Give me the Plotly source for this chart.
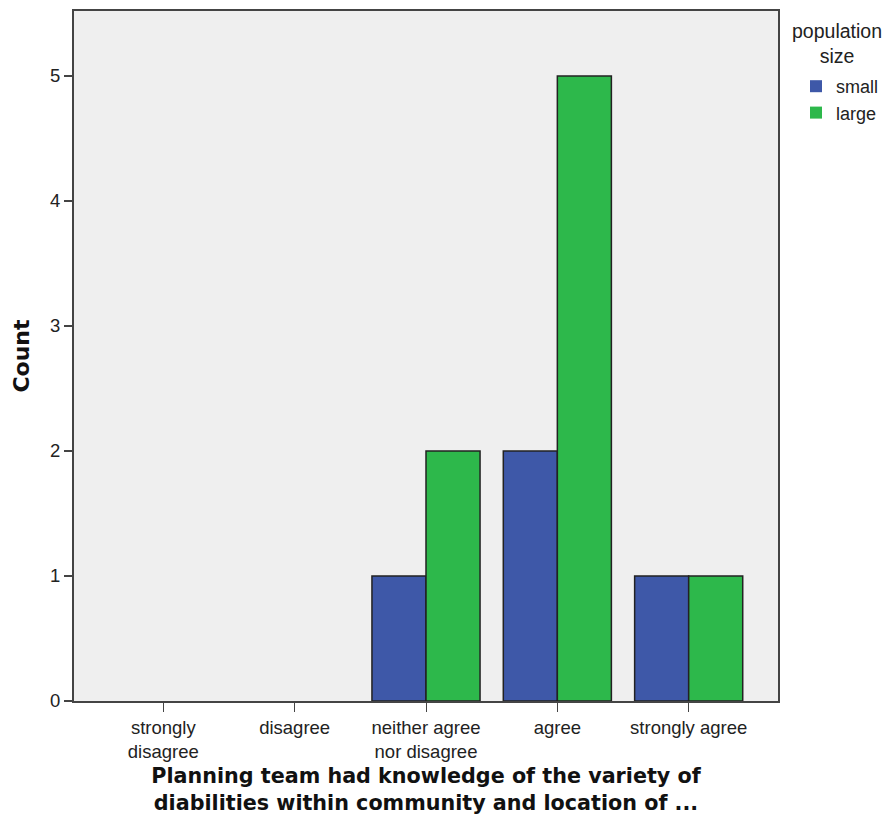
import plotly.graph_objects as go

categories = ["strongly<br>disagree", "disagree", "neither agree<br>nor disagree", "agree", "strongly agree"]
small_counts = [0, 0, 1, 2, 1]
large_counts = [0, 0, 2, 5, 1]
y_ticks = [0, 1, 2, 3, 4, 5]
legend_title = "population<br>size"


def outline(vals):
    return [1.5 if v > 0 else 0 for v in vals]


fig = go.Figure()
fig.add_trace(go.Bar(x=categories, y=small_counts, name="small",
                     marker=dict(color="#3e58a8", line=dict(color="#222222", width=outline(small_counts)))))
fig.add_trace(go.Bar(x=categories, y=large_counts, name="large",
                     marker=dict(color="#2db84b", line=dict(color="#222222", width=outline(large_counts)))))

# page body has an 8px margin, so figure coordinates = reference - 8
L, R, T, B = 66, 770, 3, 693
W, H = 876, 807
pw, ph = R - L, B - T

fig.update_layout(
    width=W, height=H,
    margin=dict(l=L, r=W - R, t=T, b=H - B, autoexpand=False),
    barmode="group", bargap=0.177, bargroupgap=0,
    plot_bgcolor="#efefef", paper_bgcolor="white",
    font=dict(family="Liberation Sans, Arial", size=18, color="#222222"),
    showlegend=True,
    legend=dict(
        x=(788 - L) / pw, xanchor="left", y=(B - 60) / ph, yanchor="top",
        font=dict(size=18), tracegroupgap=0, itemwidth=30,
        bgcolor="rgba(0,0,0,0)",
    ),
    xaxis=dict(
        type="category", range=[-0.68, 4.68], automargin=False,
        showline=True, linecolor="#444444", linewidth=2, mirror=True,
        ticks="outside", ticklen=9, tickcolor="#444444", tickwidth=1,
        tickfont=dict(size=18.5),
        title=dict(text="<b>Planning team had knowledge of the variety of<br>diabilities within community and location of ...</b>",
                   font=dict(size=20.7, family="DejaVu Sans", color="#111111"), standoff=10),
    ),
    yaxis=dict(
        range=[0, 5.52], tickvals=y_ticks, automargin=False,
        showline=True, linecolor="#444444", linewidth=2, mirror=True,
        showgrid=False, zeroline=False,
        ticks="outside", ticklen=8, tickcolor="#444444", tickwidth=2,
        tickfont=dict(size=18.5),
        title=dict(text="<b>Count</b>", font=dict(size=22, family="DejaVu Sans", color="#111111"), standoff=14),
    ),
    annotations=[dict(
        text=legend_title, xref="paper", yref="paper",
        x=(829 - L) / pw, y=(B - 10) / ph, xanchor="center", yanchor="top",
        showarrow=False, align="center",
        font=dict(size=19.5, family="Liberation Sans, Arial", color="#222222"),
    )],
)

fig.write_html("out.html")
